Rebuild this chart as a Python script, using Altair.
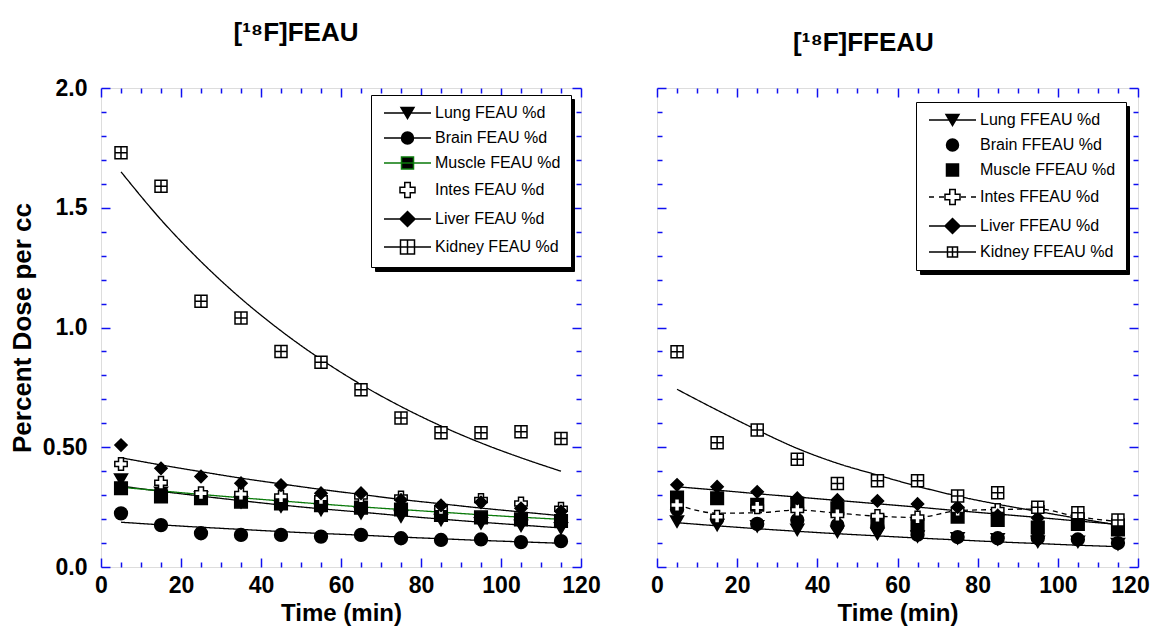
import altair as alt
import pandas as pd

# ---------------- data ----------------
times = [5, 15, 25, 35, 45, 55, 65, 75, 85, 95, 105, 115]

labels_left = ["Lung FEAU %d", "Brain FEAU %d", "Muscle FEAU %d",
               "Intes FEAU %d", "Liver FEAU %d", "Kidney FEAU %d"]
labels_right = ["Lung FFEAU %d", "Brain FFEAU %d", "Muscle FFEAU %d",
                "Intes FFEAU %d", "Liver FFEAU %d", "Kidney FFEAU %d"]

# [18F]FEAU measured points
feau_lung = [0.365, 0.31, 0.29, 0.27, 0.252, 0.238, 0.224, 0.21, 0.196, 0.182, 0.172, 0.161]
feau_brain = [0.224, 0.175, 0.141, 0.134, 0.134, 0.127, 0.134, 0.12, 0.113, 0.115, 0.104, 0.108]
feau_muscle = [0.329, 0.295, 0.287, 0.273, 0.265, 0.258, 0.248, 0.24, 0.217, 0.207, 0.199, 0.192]
feau_intes = [0.43, 0.352, 0.308, 0.305, 0.294, 0.287, 0.294, 0.29, 0.245, 0.28, 0.265, 0.243]
feau_liver = [0.509, 0.412, 0.378, 0.35, 0.342, 0.308, 0.308, 0.28, 0.257, 0.27, 0.245, 0.232]
feau_kidney = [1.73, 1.59, 1.11, 1.04, 0.90, 0.855, 0.74, 0.622, 0.561, 0.561, 0.565, 0.537]

# [18F]FEAU fitted curves
feau_lung_fit = [0.338, 0.316, 0.296, 0.277, 0.259, 0.243, 0.229, 0.214, 0.200, 0.187, 0.175, 0.163]
feau_brain_fit = [0.187, 0.176, 0.166, 0.157, 0.148, 0.140, 0.133, 0.125, 0.118, 0.111, 0.105, 0.099]
feau_muscle_fit = [0.333, 0.318, 0.303, 0.289, 0.276, 0.263, 0.251, 0.240, 0.229, 0.218, 0.208, 0.199]
feau_liver_fit = [0.456, 0.426, 0.398, 0.371, 0.347, 0.324, 0.303, 0.282, 0.264, 0.246, 0.230, 0.214]
feau_kidney_fit = [1.65, 1.45, 1.275, 1.121, 0.986, 0.867, 0.762, 0.670, 0.589, 0.518, 0.456, 0.40]

# [18F]FFEAU measured points
ffeau_lung = [0.189, 0.175, 0.17, 0.155, 0.147, 0.138, 0.127, 0.12, 0.115, 0.105, 0.105, 0.095]
ffeau_brain = [0.24, 0.2, 0.18, 0.196, 0.175, 0.168, 0.135, 0.125, 0.12, 0.12, 0.115, 0.1]
ffeau_muscle = [0.29, 0.287, 0.26, 0.265, 0.245, 0.19, 0.175, 0.21, 0.196, 0.165, 0.18, 0.157]
ffeau_intes = [0.259, 0.21, 0.249, 0.238, 0.217, 0.213, 0.207, 0.238, 0.238, 0.245, 0.215, 0.19]
ffeau_liver = [0.343, 0.335, 0.314, 0.287, 0.28, 0.276, 0.263, 0.25, 0.215, 0.205, 0.195, 0.175]
ffeau_kidney = [0.899, 0.519, 0.572, 0.45, 0.349, 0.36, 0.36, 0.296, 0.31, 0.249, 0.227, 0.196]

# [18F]FFEAU fitted / smoothed curves
ffeau_lung_fit = [0.185, 0.172, 0.160, 0.149, 0.139, 0.130, 0.121, 0.113, 0.105, 0.098, 0.091, 0.085]
ffeau_intes_fit = [0.26, 0.225, 0.226, 0.238, 0.225, 0.212, 0.207, 0.235, 0.24, 0.242, 0.21, 0.19]
ffeau_liver_fit = [0.335, 0.321, 0.306, 0.292, 0.278, 0.264, 0.250, 0.235, 0.221, 0.207, 0.192, 0.178]
ffeau_kidney_fit = [0.742, 0.655, 0.572, 0.495, 0.433, 0.384, 0.337, 0.296, 0.262, 0.232, 0.203, 0.175]

x_major = [0, 20, 40, 60, 80, 100, 120]
x_minor = [5, 10, 15, 25, 30, 35, 45, 50, 55, 65, 70, 75, 85, 90, 95, 105, 110, 115]
y_major = [0.0, 0.5, 1.0, 1.5, 2.0]
y_minor = [0.1, 0.2, 0.3, 0.4, 0.6, 0.7, 0.8, 0.9, 1.1, 1.2, 1.3, 1.4, 1.6, 1.7, 1.8, 1.9]

# ---------------- styling ----------------
FONT = "Liberation Sans, Arial, sans-serif"
BLUE = "#1010f0"
W_L, W_R, H = 480, 481, 479


def frame(series_names, series_values):
    rows = []
    for name, vals in zip(series_names, series_values):
        for t, v in zip(times, vals):
            rows.append({"series": name, "t": t, "v": v})
    return pd.DataFrame(rows)


left_points = frame(labels_left, [feau_lung, feau_brain, feau_muscle,
                                  feau_intes, feau_liver, feau_kidney])
left_lines = frame([labels_left[0], labels_left[1], labels_left[2], labels_left[4], labels_left[5]],
                   [feau_lung_fit, feau_brain_fit, feau_muscle_fit, feau_liver_fit, feau_kidney_fit])
right_points = frame(labels_right, [ffeau_lung, ffeau_brain, ffeau_muscle,
                                    ffeau_intes, ffeau_liver, ffeau_kidney])
right_lines = frame([labels_right[0], labels_right[3], labels_right[4], labels_right[5]],
                    [ffeau_lung_fit, ffeau_intes_fit, ffeau_liver_fit, ffeau_kidney_fit])

KIDNEY = "M-1,-1H1V1H-1Z M0,-1V1 M-1,0H1"
point_shapes = ["triangle-down", "circle", "square", "cross", "diamond", KIDNEY]
point_fills = ["black", "black", "black", "white", "black", "white"]

# legend glyphs (1 unit = 1 px): line + marker centred at x = 18.5
LINE = "M-5,0H42 "
DASH = "M-5,0H0 M5,0H10 M27,0H32 M37,0H42 "
TRI = "M12,-5.5H25L18.5,5.5Z"
CIRC = "M24.5,0A6,6 0 1 1 12.5,0A6,6 0 1 1 24.5,0Z"
SQR = "M12.5,-6H24.5V6H12.5Z"
CROSS = "M15.75,-7.5H21.25V-2.75H26V2.75H21.25V7.5H15.75V2.75H11V-2.75H15.75Z"
DIAM = "M18.5,-7.5L26,0L18.5,7.5L11,0Z"
KID_BIG = "M11.5,-7H25.5V7H11.5Z M18.5,-7V7 M11.5,0H25.5"
KID_SMALL = "M13.5,-5H23.5V5H13.5Z M18.5,-5V5 M13.5,0H23.5"

legend_paths_left = [LINE + TRI, LINE + CIRC, LINE + SQR, CROSS, LINE + DIAM, LINE + KID_BIG]
legend_paths_right = [LINE + TRI, CIRC, SQR, DASH + CROSS, LINE + DIAM, LINE + KID_SMALL]
legend_strokes_left = ["black", "black", "#0a7a0a", "black", "black", "black"]
legend_strokes_right = ["black"] * 6


def tick_axis(vals, orient, offset, size):
    return alt.Axis(values=vals, orient=orient, offset=offset, labels=False, domain=False,
                    ticks=True, tickSize=size, tickColor=BLUE, tickWidth=1.5, grid=False,
                    title=None, minExtent=0)


def panel(points, lines, labels, line_series, line_colors, line_dashes,
          sizes, legend_paths, legend_strokes, legend_xy, label_span, title, title_dx, width,
          with_labels, last_label_shift):
    xs = alt.Scale(domain=[0, 120], nice=False, zero=False)
    ys = alt.Scale(domain=[0, 2], nice=False, zero=False)

    x_axes = [
        alt.Axis(values=x_major, orient="bottom", ticks=False, domain=False, grid=False,
                 labelFont=FONT, labelFontSize=23, labelFontWeight="bold", labelColor="black",
                 labelPadding=7, labelFlush=False, labelOverlap=False,
                 labelOffset={"condition": {"test": "datum.value == 120", "value": last_label_shift},
                              "value": 0},
                 title="Time (min)", titleFont=FONT, titleFontSize=24, titleFontWeight="bold",
                 titleColor="black", titlePadding=4),
        tick_axis(x_major, "top", -H, 9),
        tick_axis(x_minor, "top", -H, 5),
        tick_axis(x_major, "bottom", -H, 9),
        tick_axis(x_minor, "bottom", -H, 5),
    ]
    y_ticks = [
        tick_axis(y_major, "right", -width, 9),
        tick_axis(y_minor, "right", -width, 5),
        tick_axis(y_major, "left", -width, 9),
        tick_axis(y_minor, "left", -width, 5),
    ]
    if with_labels:
        y_axes = [alt.Axis(values=y_major, orient="left", ticks=False, domain=False, grid=False,
                           labelExpr="datum.value == 0.5 ? '0.50' : format(datum.value, '.1f')",
                           labelFont=FONT, labelFontSize=23, labelFontWeight="bold",
                           labelColor="black", labelPadding=14,
                           title="Percent Dose per cc", titleFont=FONT, titleFontSize=26,
                           titleFontWeight="bold", titleColor="black", titlePadding=7)] + y_ticks
    else:
        y_axes = y_ticks + [None]

    def X(i):
        return alt.X("t:Q", scale=xs, axis=x_axes[i])

    def Y(i):
        return alt.Y("v:Q", scale=ys, axis=y_axes[i])

    lines_layer = alt.Chart(lines).mark_line(strokeWidth=1.3, interpolate="monotone").encode(
        x=X(0), y=Y(0),
        color=alt.Color("series:N", scale=alt.Scale(domain=line_series, range=line_colors), legend=None),
        strokeDash=alt.StrokeDash("series:N", scale=alt.Scale(domain=line_series, range=line_dashes),
                                  legend=None),
    )

    points_layer = alt.Chart(points).mark_point(filled=True, opacity=1, strokeWidth=1.5).encode(
        x=X(1), y=Y(1),
        shape=alt.Shape("series:N", scale=alt.Scale(domain=labels, range=point_shapes), legend=None),
        fill=alt.Fill("series:N", scale=alt.Scale(domain=labels, range=point_fills), legend=None),
        size=alt.Size("series:N", scale=alt.Scale(domain=labels, range=sizes), legend=None),
        stroke=alt.value("black"),
    )

    common = dict(title=None, labelFont=FONT, labelFontSize=16, labelColor="black", labelLimit=400,
                  symbolSize=4, symbolStrokeWidth=1.5, symbolOpacity=1, padding=10, rowPadding=7,
                  strokeColor="black", orient="none")

    # drop shadow of the legend box (no visible text)
    shadow_leg = alt.Legend(legendX=legend_xy[0] + 4, legendY=legend_xy[1] + 4,
                            labelOffset=38 + label_span, labelExpr="''",
                            fillColor="black", zindex=0, **common)
    shadow_layer = alt.Chart(points).transform_filter("false").mark_point(
        filled=True, opacity=1, strokeWidth=1.5).encode(
        x=X(3), y=Y(3),
        shape=alt.Shape("series:N", scale=alt.Scale(domain=labels, range=legend_paths), legend=shadow_leg),
        fill=alt.Fill("series:N", scale=alt.Scale(domain=labels, range=["black"] * 6), legend=shadow_leg),
        stroke=alt.Stroke("series:N", scale=alt.Scale(domain=labels, range=["black"] * 6), legend=shadow_leg),
    )

    main_leg = alt.Legend(legendX=legend_xy[0], legendY=legend_xy[1], labelOffset=38,
                          fillColor="white", zindex=1, **common)
    legend_layer = alt.Chart(points).transform_filter("false").mark_point(
        filled=True, opacity=1, strokeWidth=1.5).encode(
        x=X(2), y=Y(2),
        shape=alt.Shape("series:N", scale=alt.Scale(domain=labels, range=legend_paths), legend=main_leg),
        fill=alt.Fill("series:N", scale=alt.Scale(domain=labels, range=point_fills), legend=main_leg),
        stroke=alt.Stroke("series:N", scale=alt.Scale(domain=labels, range=legend_strokes), legend=main_leg),
    )

    extra_layer = alt.Chart(points).transform_filter("false").mark_point().encode(
        x=X(4), y=Y(4),
    )

    return alt.layer(lines_layer, points_layer, shadow_layer, legend_layer, extra_layer).resolve_scale(
        shape="independent", fill="independent", stroke="independent", color="independent",
        size="independent", strokeDash="independent",
    ).resolve_axis(x="independent", y="independent").properties(
        width=width, height=H,
        title=alt.TitleParams(title, font=FONT, fontSize=26, fontWeight="bold", color="black",
                              anchor="middle", frame="group", dx=title_dx, offset=31),
    )


left = panel(left_points, left_lines, labels_left,
             [labels_left[0], labels_left[1], labels_left[2], labels_left[4], labels_left[5]],
             ["black", "black", "#0a7a0a", "black", "black"],
             [[1, 0], [1, 0], [1, 0], [1, 0], [1, 0]],
             [169, 144, 144, 225, 196, 196],
             legend_paths_left, legend_strokes_left, (270, 7), 125,
             "[¹⁸F]FEAU", -45, W_L, True, 0)

right = panel(right_points, right_lines, labels_right,
              [labels_right[0], labels_right[3], labels_right[4], labels_right[5]],
              ["black", "black", "black", "black"],
              [[1, 0], [5, 4], [1, 0], [1, 0]],
              [169, 144, 144, 225, 196, 121],
              legend_paths_right, legend_strokes_right, (259, 14), 135,
              "[¹⁸F]FFEAU", -34, W_R, False, -8)

chart = alt.hconcat(left, right, spacing=76, bounds="flush").properties(
    padding={"left": 0, "top": 11, "right": 0, "bottom": 0},
).configure_view(stroke=BLUE, strokeWidth=1.5).configure(background="white")

chart.save("out.html", embed_options={"renderer": "svg", "actions": False})
